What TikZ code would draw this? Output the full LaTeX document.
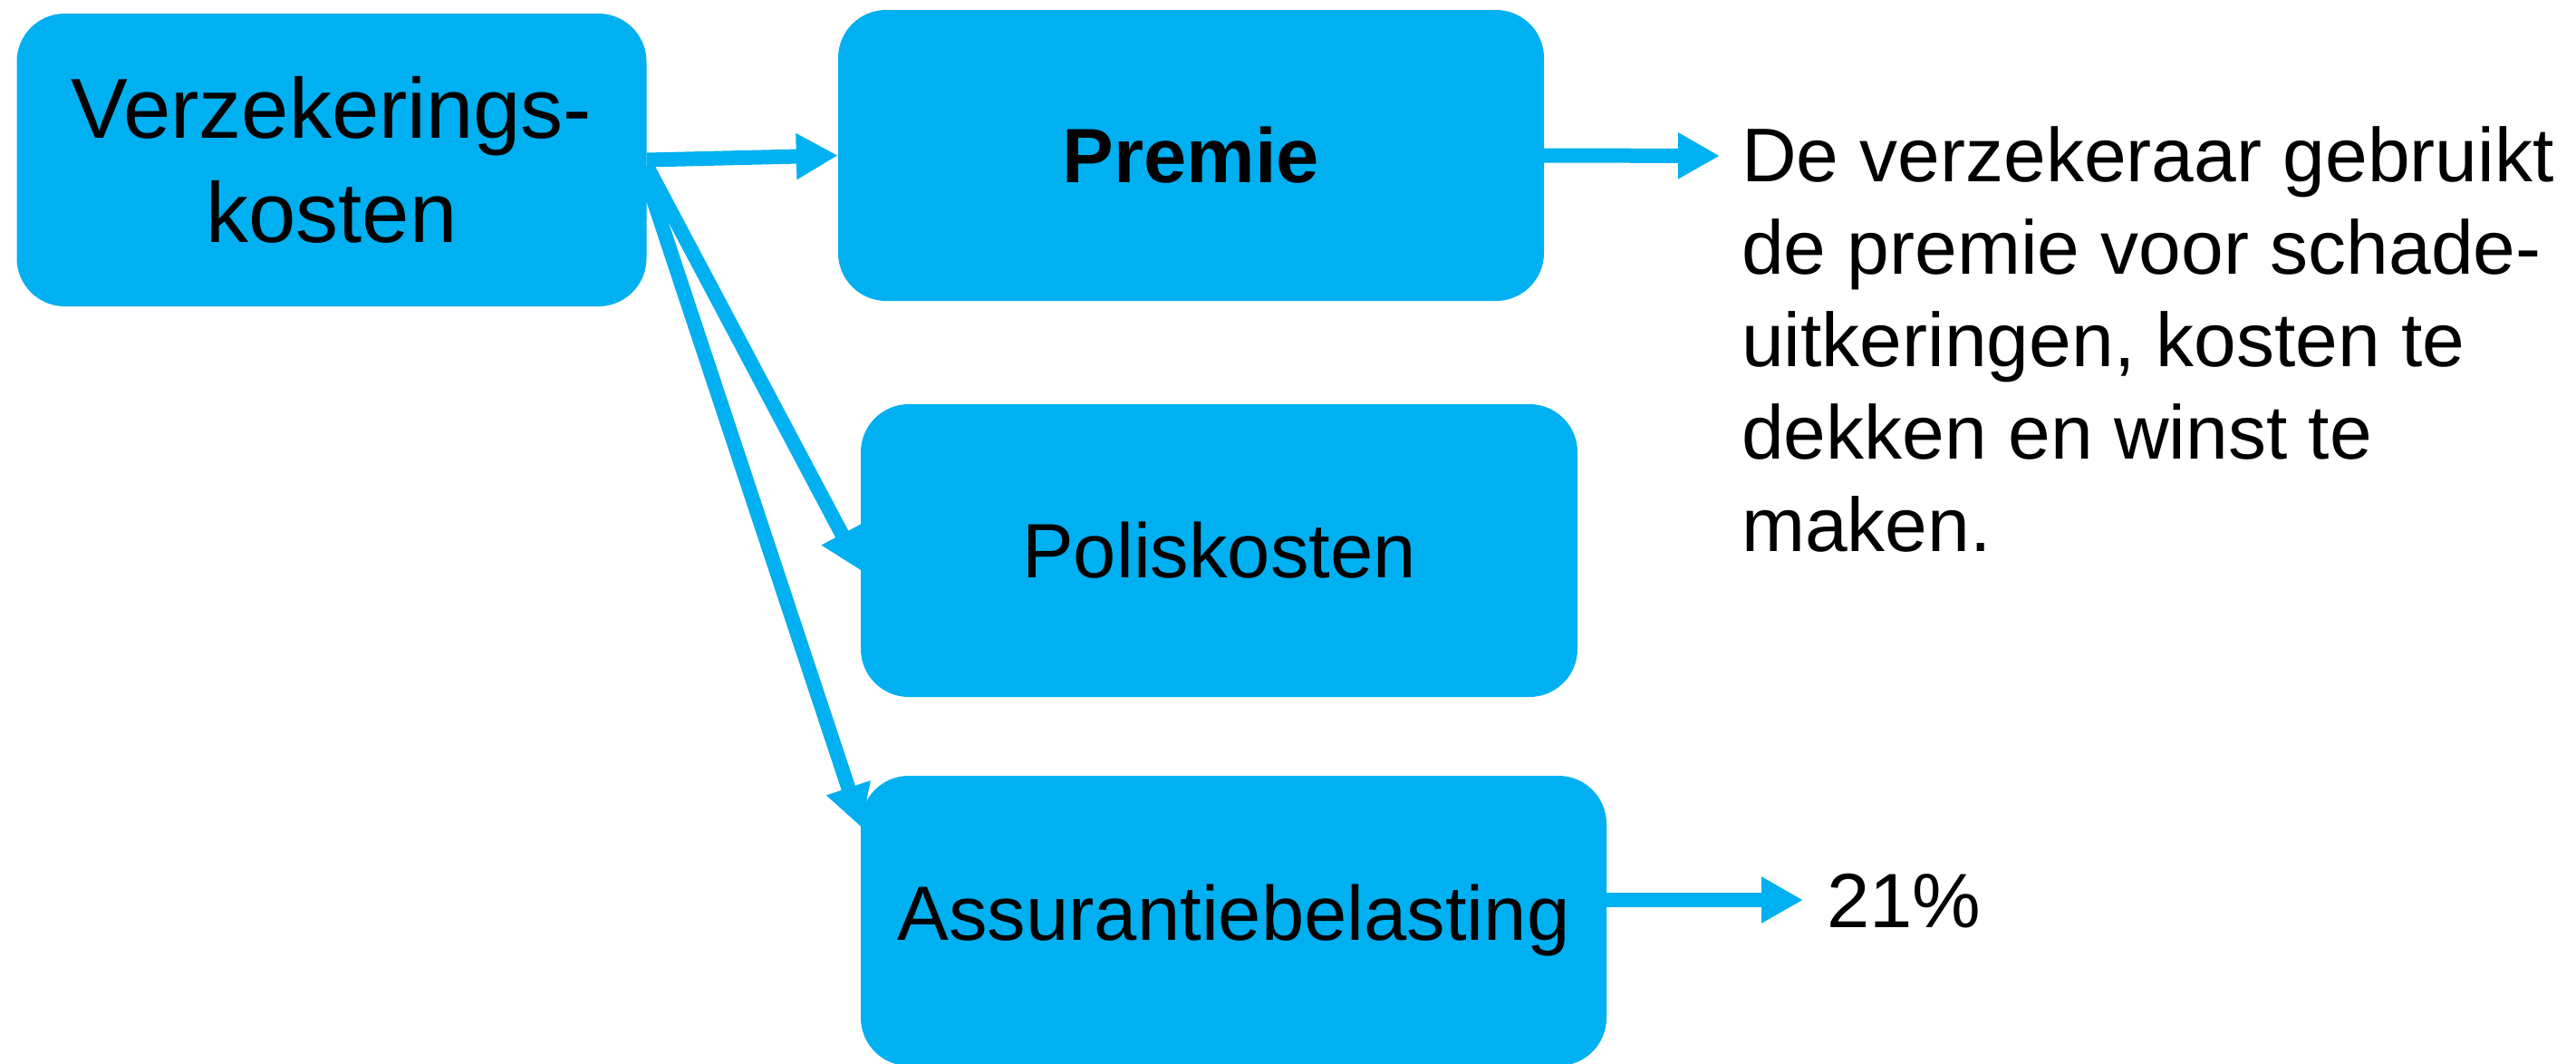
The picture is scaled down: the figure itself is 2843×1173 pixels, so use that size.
\documentclass[tikz,border=0pt]{standalone}
\usepackage{fontspec}
\setmainfont{Liberation Sans}
\usetikzlibrary{arrows.meta,calc}
\pgfdeclarelayer{background}
\pgfsetlayers{background,main}
\definecolor{boxblue}{HTML}{00B0F0}
\tikzset{
  costbox/.style={fill=boxblue, draw=none, rounded corners=53pt, inner sep=0pt,
    align=center, font=\fontsize{85}{103}\selectfont},
  flow/.style={draw=boxblue, line width=16pt,
    -{Triangle[length=46pt,width=48pt]}},
  note/.style={inner sep=0pt, align=left, font=\fontsize{84}{102}\selectfont}
}
\begin{document}
\begin{tikzpicture}[x=1pt,y=-1pt]
  \useasboundingbox (0,0) rectangle (2843,1173);

  % boxes
  \node[costbox, minimum width=695pt, minimum height=323pt,
        font=\fontsize{94}{115}\selectfont] (v) at (366,176.5) {Verzekerings-\\kosten};
  \node[costbox, minimum width=779pt, minimum height=321pt] (p) at (1314.5,171.5) {\textbf{Premie}};
  \node[costbox, minimum width=791pt, minimum height=323pt] (pol) at (1345.5,607.5) {Poliskosten};
  \node[costbox, minimum width=823pt, minimum height=320pt] (ass) at (1361.5,1016) {Assurantiebelasting};

  % texts on the right (the base anchor sits on the last line)
  \node[note, anchor=base west] (uitleg) at (1922,608)
    {De verzekeraar gebruikt\\de premie voor schade-\\uitkeringen, kosten te\\dekken en winst te\\maken.};
  \node[note, font=\fontsize{85}{102}\selectfont, anchor=base west] (pct) at (2016,1023) {21\%};

  \coordinate (uitlegpijl) at (1898,172);
  \coordinate (pctpijl) at (1990,993);

  % connectors, drawn underneath the boxes
  \begin{pgfonlayer}{background}
    \draw[flow] (v.east) -- (p.west);
    \draw[flow] ($(v.east)+(0,6.5)$) -- ($(pol.west)+(1,22.5)$);
    \draw[flow] ($(v.east)+(0,21.5)$) -- ($(ass.west)+(1,-103)$);
    \draw[flow] (p.east) -- (uitlegpijl);
    \draw[flow] ($(ass.east)+(0,-23)$) -- (pctpijl);
  \end{pgfonlayer}
\end{tikzpicture}
\end{document}
